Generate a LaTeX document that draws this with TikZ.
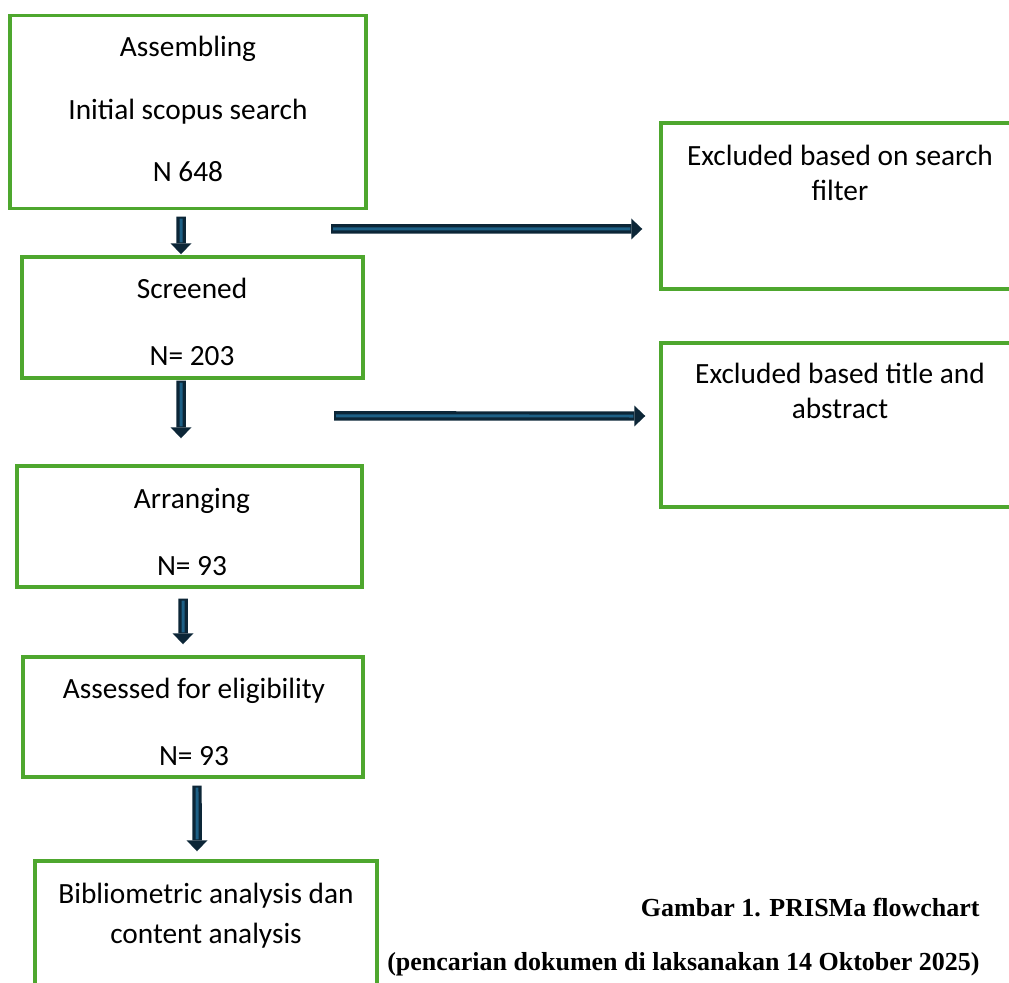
\documentclass[tikz,border=0pt]{standalone}
\usepackage{fontspec}
\setmainfont{Carlito}
\newfontfamily\captionserif{Liberation Serif}
\usepackage{tikz}
\usetikzlibrary{arrows.meta}
\definecolor{boxgreen}{HTML}{4EA72E}
\definecolor{arrowdark}{HTML}{0C2637}
\definecolor{arrowblue}{HTML}{1D6086}

\begin{document}
\begin{tikzpicture}[x=0.02cm,y=-0.02cm,
			flow box/.style={draw=boxgreen,line width=0.07cm,rectangle,inner sep=0pt},
			flow text/.style={anchor=north,inner sep=0pt,align=center,
				font=\fontsize{16.7pt}{#1}\selectfont},
			flow text/.default=19.9pt,
			caption text/.style={anchor=base east,inner sep=0pt,
				font=\captionserif\bfseries\fontsize{14.8pt}{17pt}\selectfont},
			flow arrow/.style={draw=arrowdark,line width=0.19cm,
				-{Triangle[width=0.42cm,length=0.22cm,line width=0pt]},
				postaction={draw=arrowblue,line width=0.06cm,-,
					shorten >=0.24cm,shorten <=0.04cm}}]
			
			\useasboundingbox (0,0) rectangle (1009,983);
			\clip (0,0) rectangle (1009,983);
			
			% left column
			\node[flow box,minimum width=7.12cm,minimum height=3.86cm] (A) at (188,112) {};
			\node[flow box,minimum width=6.82cm,minimum height=2.42cm] (B) at (192.5,317.5) {};
			\node[flow box,minimum width=6.9cm,minimum height=2.42cm] (C) at (189.5,526.5) {};
			\node[flow box,minimum width=6.8cm,minimum height=2.4cm] (D) at (193,717) {};
			\node[flow box,minimum width=6.84cm,minimum height=3.2cm] (E) at (206,941) {};
			% right column
			\node[flow box,minimum width=7.16cm,minimum height=3.32cm] (F) at (840,206) {};
			\node[flow box,minimum width=7.16cm,minimum height=3.28cm] (G) at (840,425) {};
			
			\node[flow text=35.6pt] (At) at (188,36) {Assembling\\Initial scopus search\\N 648};
			\node[flow text=38pt] (Bt) at (192,278) {Screened\\N= 203};
			\node[flow text=38pt] (Ct) at (192,488) {Arranging\\N= 93};
			\node[flow text=38pt] (Dt) at (194,678) {Assessed for eligibility\\N= 93};
			\node[flow text=22.5pt] (Et) at (206,883) {Bibliometric analysis dan\\content analysis};
			\node[flow text] (Ft) at (840,144.5) {Excluded based on search\\filter};
			\node[flow text] (Gt) at (840,362.5) {Excluded based title and\\abstract};
			
			\node[caption text] (H) at (980,916) {Gambar 1. PRISMa flowchart};
			\node[caption text] (I) at (980,970) {(pencarian dokumen di laksanakan 14 Oktober 2025)};
			
			\coordinate (cut1) at (331,229);
			\coordinate (cut2) at (334,416);
			
			\draw[flow arrow] ([xshift=-0.14cm,yshift=-0.13cm]A.south) -- ([xshift=-0.23cm,yshift=0.02cm]B.north);
			\draw[flow arrow] ([xshift=-0.23cm,yshift=-0.02cm]B.south) -- ([xshift=-0.17cm,yshift=0.52cm]C.north);
			\draw[flow arrow] ([xshift=-0.13cm,yshift=-0.2cm]C.south) -- ([xshift=-0.2cm,yshift=0.22cm]D.north);
			\draw[flow arrow] ([xshift=0.08cm,yshift=-0.14cm]D.south) -- ([xshift=-0.18cm,yshift=0.16cm]E.north);
			\draw[flow arrow] (cut1) -- ([xshift=-0.34cm,yshift=-0.46cm]F.west);
			\draw[flow arrow] (cut2) -- ([xshift=-0.28cm,yshift=0.18cm]G.west);
		\end{tikzpicture}
\end{document}
